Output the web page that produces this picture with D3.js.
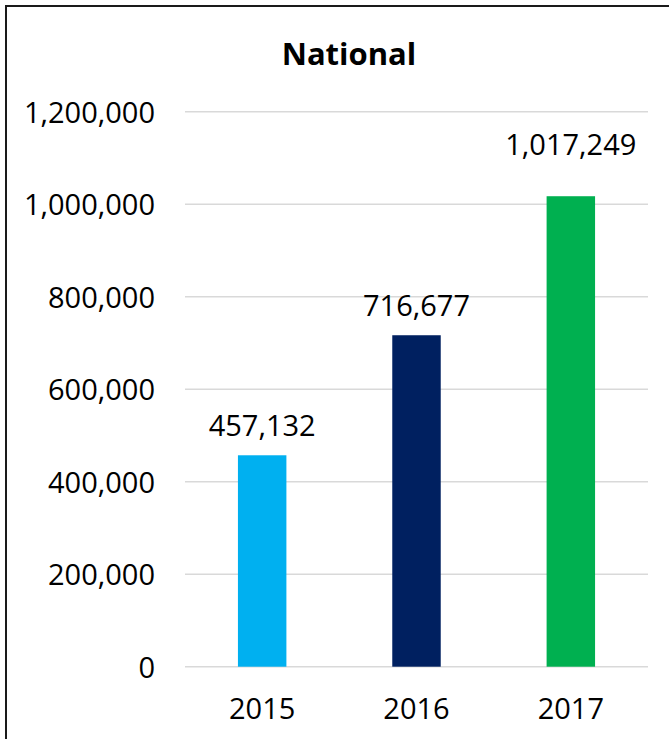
<!DOCTYPE html>
<html>
<head>
<meta charset="utf-8">
<script src="https://cdn.jsdelivr.net/npm/d3@7"></script>
<style>
  html, body { margin: 0; padding: 0; background: #fff; }
  svg { display: block; }
  text { font-family: "Open Sans", "Noto Sans", sans-serif; fill: #000; }
</style>
</head>
<body>
<svg id="chart" width="669" height="739"></svg>
<script>
// Yearly national totals
const years = ["2015", "2016", "2017"];
const totals = [457132, 716677, 1017249];
const barColors = ["#00B0F0", "#002060", "#00B050"];
const yTicks = [0, 200000, 400000, 600000, 800000, 1000000, 1200000];
const chartTitle = "National";

const width = 669, height = 739;
const plot = { left: 185, right: 648, top: 111.7, bottom: 666.7 };
const fontSize = 29;

const svg = d3.select("#chart");

// Chart frame (extends past the right and bottom edges)
svg.append("rect")
  .attr("x", 6).attr("y", 6)
  .attr("width", width + 20).attr("height", height + 20)
  .attr("fill", "none").attr("stroke", "#1a1a1a").attr("stroke-width", 2);

const x = d3.scaleBand()
  .domain(years)
  .range([plot.left, plot.right])
  .paddingInner(0.686)
  .paddingOuter(0.343);

const y = d3.scaleLinear()
  .domain([0, 1200000])
  .range([plot.bottom, plot.top]);

const fmt = d3.format(",");

// Gridlines
svg.append("g").selectAll("line")
  .data(yTicks)
  .join("line")
  .attr("x1", plot.left).attr("x2", plot.right)
  .attr("y1", d => y(d)).attr("y2", d => y(d))
  .attr("stroke", "#d9d9d9").attr("stroke-width", 1.5);

// Y axis labels
const yAxis = d3.axisLeft(y).tickValues(yTicks).tickFormat(fmt).tickSize(0).tickPadding(0);
svg.append("g")
  .attr("transform", `translate(155,0)`)
  .call(yAxis)
  .call(g => g.select(".domain").remove())
  .call(g => g.selectAll("text")
    .attr("font-size", fontSize)
    .attr("font-family", "'Open Sans', sans-serif")
    .attr("fill", "#000")
    .attr("dy", "0.36em"));

// X axis labels
const xAxis = d3.axisBottom(x).tickSize(0).tickPadding(0);
svg.append("g")
  .attr("transform", `translate(0,${plot.bottom})`)
  .call(xAxis)
  .call(g => g.select(".domain").remove())
  .call(g => g.selectAll("text")
    .attr("font-size", fontSize)
    .attr("font-family", "'Open Sans', sans-serif")
    .attr("fill", "#000")
    .attr("dy", null)
    .attr("y", 52));

const data = years.map((yr, i) => ({ year: yr, value: totals[i], color: barColors[i] }));

// Bars
svg.append("g").selectAll("rect")
  .data(data)
  .join("rect")
  .attr("x", d => x(d.year))
  .attr("width", x.bandwidth())
  .attr("y", d => y(d.value))
  .attr("height", d => y(0) - y(d.value))
  .attr("fill", d => d.color);

// Value labels; the tallest one sits higher, clear of the 1,000,000 gridline
const labelGap = d => (d.year === "2017" ? 41 : 19);
svg.append("g").selectAll("text")
  .data(data)
  .join("text")
  .attr("x", d => x(d.year) + x.bandwidth() / 2)
  .attr("y", d => y(d.value) - labelGap(d))
  .attr("text-anchor", "middle")
  .attr("font-size", fontSize)
  .text(d => fmt(d.value));

// Title
svg.append("text")
  .attr("x", 349).attr("y", 65)
  .attr("text-anchor", "middle")
  .attr("font-size", 31)
  .attr("font-weight", "bold")
  .text(chartTitle);
</script>
</body>
</html>
